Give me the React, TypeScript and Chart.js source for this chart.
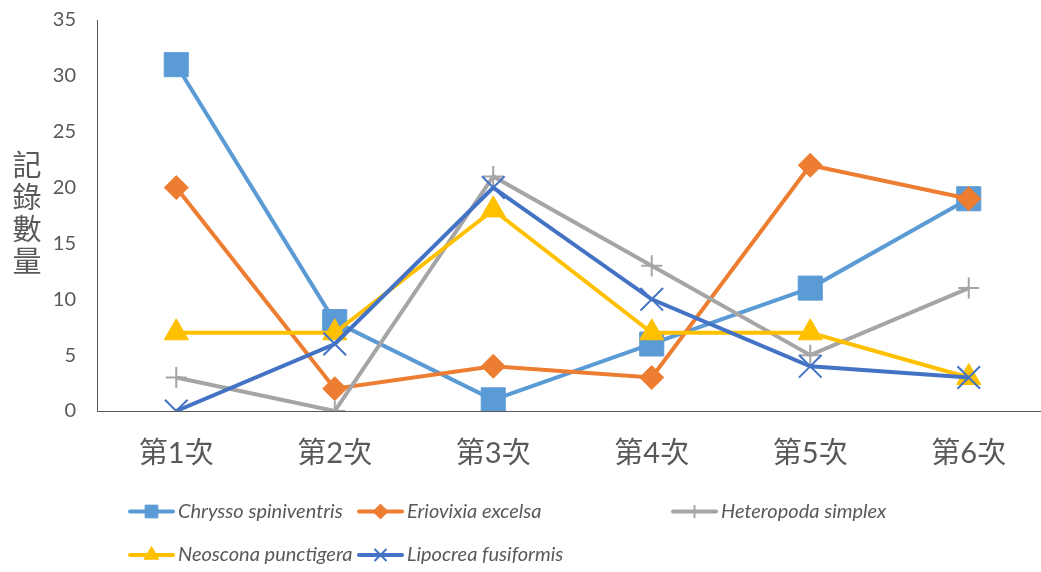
import React, { useEffect, useRef } from 'react';
import { Chart, registerables } from 'chart.js';
import { drawPoint } from 'chart.js/helpers';

Chart.register(...registerables);

// ---- data ----
const categories = ['第1次', '第2次', '第3次', '第4次', '第5次', '第6次'];
const seriesNames = [
  'Chrysso spiniventris',
  'Eriovixia excelsa',
  'Heteropoda simplex',
  'Neoscona punctigera',
  'Lipocrea fusiformis',
];
const chrysso = [31, 8, 1, 6, 11, 19];
const eriovixia = [20, 2, 4, 3, 22, 19];
const heteropoda = [3, 0, 21, 13, 5, 11];
const neoscona = [7, 7, 18, 7, 7, 3];
const lipocrea = [0, 6, 20, 10, 4, 3];
const yMin = 0;
const yMax = 35;
const yStep = 5;
const yTitle = '記錄數量';

// ---- styles ----
const colors = ['#5B9BD5', '#ED7D31', '#A5A5A5', '#FFC000', '#4472C4'];
const pointStyles = ['rect', 'rectRot', 'cross', 'triangle', 'crossRot'];
const pointRadii = [17, 12, 10.5, 14, 16];
const pointBorders = [1, 1, 2, 1, 2];
const legendRadii = [9, 7.5, 6.5, 8.5, 8.5];
const legendBorders = [1, 1, 2, 1, 2];
const textColor = '#595959';
const axisColor = '#595959';

const W = 1066;
const H = 572;

const yTitlePlugin = {
  id: 'yTitleStack',
  afterDraw(chart: any) {
    const ctx = chart.ctx;
    ctx.save();
    ctx.fillStyle = textColor;
    ctx.font = '29px "Noto Sans CJK TC"';
    ctx.textAlign = 'center';
    ctx.textBaseline = 'middle';
    const chars = Array.from(yTitle);
    const step = 31.8;
    const cx = 27;
    const cy = 213;
    const start = cy - ((chars.length - 1) * step) / 2;
    chars.forEach((c, i) => ctx.fillText(c, cx, start + i * step));
    ctx.restore();
  },
};

const legendPlugin = {
  id: 'customLegend',
  afterDraw(chart: any) {
    const ctx = chart.ctx;
    const colX = [128, 357, 671];
    const rowY = [511.5, 555];
    const lineLen = 47;
    ctx.save();
    chart.data.datasets.forEach((ds: any, i: number) => {
      const x = colX[i % 3];
      const y = rowY[Math.floor(i / 3)];
      ctx.strokeStyle = ds.borderColor;
      ctx.lineWidth = 4;
      ctx.lineCap = 'round';
      ctx.beginPath();
      ctx.moveTo(x + 2, y);
      ctx.lineTo(x + lineLen - 2, y);
      ctx.stroke();
      ctx.lineCap = 'butt';
      ctx.fillStyle = ds.pointBackgroundColor;
      ctx.strokeStyle = ds.pointBorderColor;
      ctx.lineWidth = legendBorders[i];
      drawPoint(ctx, {
        pointStyle: pointStyles[i],
        radius: legendRadii[i],
        rotation: 0,
        borderWidth: legendBorders[i],
      } as any, x + lineLen / 2, y);
      ctx.fillStyle = textColor;
      ctx.font = 'italic 20px Lato';
      ctx.textAlign = 'left';
      ctx.textBaseline = 'middle';
      ctx.fillText(ds.label, x + lineLen + 3, y);
    });
    ctx.restore();
  },
};

export default function App() {
  const canvasRef = useRef<HTMLCanvasElement | null>(null);

  useEffect(() => {
    const canvas = canvasRef.current;
    if (!canvas) return;
    const values = [chrysso, eriovixia, heteropoda, neoscona, lipocrea];
    const chart = new Chart(canvas, {
      type: 'line',
      data: {
        labels: categories,
        datasets: values.map((v, i) => ({
          label: seriesNames[i],
          data: v,
          borderColor: colors[i],
          backgroundColor: colors[i],
          borderWidth: 4,
          pointStyle: pointStyles[i] as any,
          pointRadius: pointRadii[i],
          pointBackgroundColor: colors[i],
          pointBorderColor: colors[i],
          pointBorderWidth: pointBorders[i],
          tension: 0,
          fill: false,
          order: values.length - i,
        })),
      },
      options: {
        responsive: false,
        maintainAspectRatio: false,
        devicePixelRatio: 1,
        animation: false,
        events: [],
        layout: { padding: { left: 0, right: 1, top: 20, bottom: 0 } },
        plugins: {
          legend: { display: false },
          tooltip: { enabled: false },
          title: { display: false },
        },
        scales: {
          x: {
            type: 'category',
            offset: true,
            grid: { display: false, drawTicks: false },
            border: { display: true, color: axisColor, width: 1 },
            ticks: {
              color: textColor,
              font: { family: 'Lato, "Noto Sans CJK TC"', size: 29 },
              padding: 25,
              maxRotation: 0,
              autoSkip: false,
            },
            afterFit: (s: any) => {
              s.height = 161;
              s.paddingLeft = 0;
              s.paddingRight = 0;
            },
          },
          y: {
            min: yMin,
            max: yMax,
            grid: { display: false, drawTicks: false },
            border: { display: true, color: axisColor, width: 1 },
            ticks: {
              stepSize: yStep,
              color: textColor,
              font: { family: 'Lato', size: 20 },
              padding: 21,
            },
            afterFit: (s: any) => {
              s.width = 97;
              s.paddingTop = 0;
              s.paddingBottom = 0;
            },
          },
        },
      },
      plugins: [yTitlePlugin, legendPlugin],
    });
    return () => chart.destroy();
  }, []);

  return (
    <div
      style={{
        position: 'fixed',
        left: 0,
        top: 0,
        width: 1041,
        height: H,
        overflow: 'hidden',
        background: '#fff',
      }}
    >
      <canvas ref={canvasRef} width={W} height={H} style={{ width: W, height: H, display: 'block' }} />
    </div>
  );
}
